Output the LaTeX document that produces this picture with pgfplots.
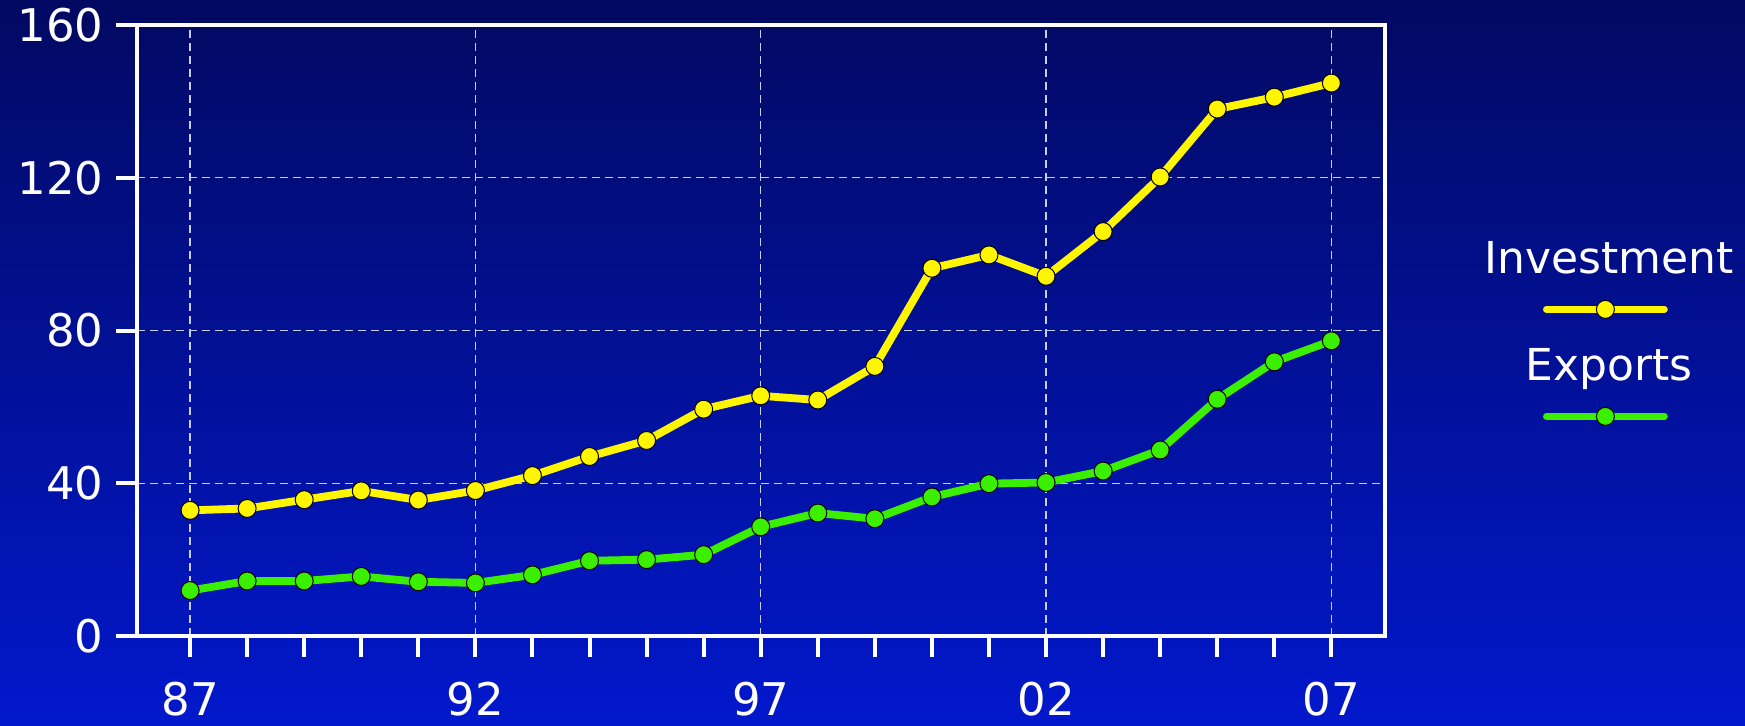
\documentclass[border=0pt]{standalone}
\usepackage{pgfplots}
\pgfplotsset{compat=1.18}
\usepackage{fontspec}
\setmainfont{DejaVu Sans}
\definecolor{bgtop}{RGB}{2,9,98}
\definecolor{bgbot}{RGB}{2,24,204}
\definecolor{invy}{RGB}{255,245,0}
\definecolor{expg}{RGB}{58,240,0}
\definecolor{gridc}{RGB}{200,205,235}
\begin{document}
\begin{tikzpicture}
\useasboundingbox (0,0) rectangle (872.5pt,362.5pt);
\fill[top color=bgtop,bottom color=bgbot] (0,0) rectangle (872.5pt,362.5pt);
\begin{axis}[
  at={(68.5pt,44.5pt)}, anchor=south west,
  width=624pt, height=305.5pt, scale only axis,
  xmin=86.07, xmax=107.94, ymin=0, ymax=160,
  xtick={87,92,97,102,107}, xticklabels={87,92,97,02,07},
  minor xtick={88,89,90,91,93,94,95,96,98,99,100,101,103,104,105,106},
  ytick={0,40,80,120,160}, yticklabels={0,40,80,120,160},
  tick pos=left, tick align=outside,
  major tick length=10.5pt, minor tick length=10.5pt,
  tick style={white, line width=2pt},
  minor tick style={white, line width=2pt},
  axis line style={white, line width=2.2pt},
  xmajorgrids, ymajorgrids,
  major grid style={gridc, line width=0.6pt, dash pattern=on 4pt off 2.5pt},
  ticklabel style={font=\fontsize{22.5}{27}\selectfont, text=white, inner sep=0pt},
  /pgf/number format/assume math mode=true,
  xticklabel shift=12.5pt, yticklabel shift=6pt,
  legend cell align=center,
  legend style={at={(1.17628,0.6465)}, anchor=north, draw=none, fill=none,
    inner sep=0pt, column sep=0pt, row sep=32.5pt,
    nodes={inner sep=0pt, text height=16pt, text depth=5pt, text=white, font=\fontsize{22}{26}\selectfont},
    cells={anchor=base}},
  legend image code/.code={
    \path (0pt,0pt);
    \draw[overlay,mark repeat=2,mark phase=2,line cap=round,line width=3.4pt]
      plot coordinates {(33pt,-18pt) (62.5pt,-18pt) (92pt,-18pt)};
  },
]
\addplot[invy, line width=3.9pt, line join=round, mark=*, mark size=4.5pt,
  mark options={fill=invy, draw=black, line width=0.5pt}] coordinates {
 (87,32.9) (88,33.4) (89,35.7) (90,38.0) (91,35.6) (92,38.1) (93,42.0)
 (94,47.0) (95,51.2) (96,59.4) (97,62.9) (98,61.8) (99,70.6) (100,96.3)
 (101,99.8) (102,94.2) (103,105.9) (104,120.2) (105,138.0) (106,141.1) (107,144.8)};
\addlegendentry{Investment}
\addplot[expg, line width=3.9pt, line join=round, mark=*, mark size=4.5pt,
  mark options={fill=expg, draw=black, line width=0.5pt}] coordinates {
 (87,11.9) (88,14.4) (89,14.4) (90,15.6) (91,14.2) (92,13.9) (93,16.0)
 (94,19.7) (95,20.0) (96,21.3) (97,28.6) (98,32.2) (99,30.7) (100,36.4)
 (101,39.9) (102,40.2) (103,43.2) (104,48.7) (105,62.0) (106,71.8) (107,77.3)};
\addlegendentry{Exports}
\end{axis}
\end{tikzpicture}
\end{document}
